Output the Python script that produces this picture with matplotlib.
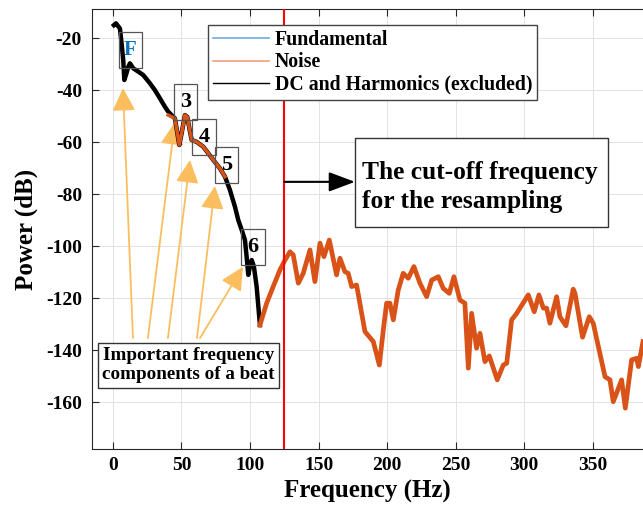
import numpy as np
import matplotlib
matplotlib.use('Agg')
import matplotlib.pyplot as plt
from matplotlib.lines import Line2D
from matplotlib.patches import Rectangle
from matplotlib.transforms import ScaledTranslation

plt.rcParams['font.family'] = ['Liberation Serif', 'DejaVu Serif']
plt.rcParams['font.weight'] = 'bold'
plt.rcParams['axes.unicode_minus'] = False

# DC and harmonics (black), 0 - 107 Hz
freq_dc = [0.7, 2.2, 5.1, 6.3, 7.5, 8.3, 9.5, 11.2, 12.4, 14.8, 18.5, 22.1, 27.0, 30.6,
           34.3, 37.9, 40.3, 45.2, 48.4, 50.1, 52.5, 54.2, 56.2, 57.4, 61.0, 65.9, 69.5,
           73.2, 78.0, 81.7, 85.3, 89.0, 91.4, 93.9, 96.3, 97.5, 98.7, 99.9, 101.2,
           102.8, 104.8, 107.2]
power_dc = [-14.9, -14.2, -16.2, -21.9, -28.3, -36.0, -34.1, -30.9, -29.6, -31.5, -32.8,
            -34.1, -37.3, -39.9, -43.1, -46.3, -48.2, -50.8, -61.0, -56.5, -49.5, -50.2,
            -55.9, -59.1, -59.8, -61.7, -64.2, -66.8, -70.0, -73.2, -78.3, -84.8, -89.9,
            -93.7, -97.6, -104.0, -111.0, -107.8, -105.3, -107.8, -115.5, -130.3]

# noise between harmonics 3 and 5
freq_mid = [40.3, 45.2, 48.4, 50.1, 52.5, 54.2, 56.2, 57.4, 61.0, 65.9, 69.5, 73.2, 78.0, 81.7]
power_mid = [-49.5, -50.8, -61.0, -56.5, -49.5, -50.2, -55.9, -59.1, -59.8, -61.7, -64.2,
             -66.8, -70.0, -73.2]

# noise above 107 Hz
freq_noise = [107.2, 112.1, 116.9, 121.8, 125.5, 129.1, 131.5, 135.2, 138.8, 143.7, 147.3,
              151.0, 153.9, 157.8, 163.1, 165.6, 169.2, 171.6, 174.1, 177.7, 183.8, 189.9,
              194.3, 197.2, 199.6, 202.0, 204.5, 208.1, 211.7, 215.4, 219.5, 223.9, 228.8,
              232.5, 237.3, 240.9, 245.3, 248.7, 253.1, 256.7, 259.2, 261.6, 265.2, 267.7,
              271.3, 274.5, 280.3, 284.7, 287.2, 290.8, 294.5, 302.9, 307.3, 310.7, 313.9,
              316.3, 318.7, 323.6, 326.0, 330.4, 335.7, 337.0, 342.5, 347.4, 350.3, 358.9,
              362.5, 364.9, 371.0, 373.7, 378.3, 382.0, 383.2, 386.6]
power_noise = [-130.3, -121.9, -115.5, -109.1, -105.3, -102.1, -103.3, -114.2, -110.4, -101.4,
               -113.6, -98.8, -104.0, -97.6, -111.0, -104.6, -109.8, -110.4, -115.5, -114.9,
               -132.8, -136.7, -145.7, -132.2, -121.9, -121.9, -128.3, -116.8, -110.4, -112.3,
               -107.8, -114.2, -119.4, -113.0, -111.7, -116.2, -118.1, -111.7, -120.7, -121.9,
               -146.9, -125.8, -139.2, -133.5, -144.4, -142.2, -151.4, -145.7, -145.0, -128.3,
               -125.8, -118.7, -125.2, -118.7, -123.8, -123.8, -129.6, -119.4, -127.1, -130.6,
               -116.5, -118.1, -135.0, -127.1, -129.6, -150.2, -151.4, -159.8, -151.4, -162.3,
               -143.7, -143.1, -146.3, -136.7]

cutoff = 125
# labelled components: name, label position, arrow tip, arrow tail
comp_names = ['F', '3', '4', '5', '6']
comp_label_x = [12.8, 52.9, 66.4, 82.8, 102.1]
comp_label_y = [-24.3, -44.5, -58.0, -68.7, -100.1]
tip_x = [7.3, 45.2, 56.2, 74.4, 94.8]
tip_y = [-39.1, -52.2, -66.8, -76.8, -107.9]
tail_x = [14.6, 25.5, 40.1, 61.3, 63.5]
tail_y = -135.3

blue = '#0072BD'
orange = '#D95319'

fig = plt.figure(figsize=(6.43, 5.14), dpi=100)
ax = fig.add_axes([0.1426, 0.1265, 0.8574, 0.8554])

ax.plot(freq_dc, power_dc, color='black', lw=3.2, solid_joinstyle='round', zorder=3)
ax.plot(freq_mid, power_mid, color=orange, lw=2.5, solid_joinstyle='round', zorder=4)
ax.plot(freq_noise, power_noise, color=orange, lw=3.4, solid_joinstyle='round', zorder=3)
ax.axvline(cutoff, color='red', lw=1.5, zorder=5)

ax.set_xlim(-15.5, 386.6)
ax.set_ylim(-178, -8.8)
ax.set_xticks(np.arange(0, 351, 50))
ax.set_yticks(np.arange(-160, -19, 20))
ax.grid(True, color='#e3e3e3', lw=0.7)
ax.set_axisbelow(True)
ax.tick_params(direction='in', top=True, right=False, length=5, width=0.8,
               labelsize=14, colors='#262626')
ax.tick_params(axis='x', pad=6)
ax.tick_params(axis='y', pad=7)
for lab in ax.get_xticklabels() + ax.get_yticklabels():
    lab.set_color('black')
ax.spines['right'].set_visible(False)
for s in ['left', 'top', 'bottom']:
    ax.spines[s].set_color('#262626')
    ax.spines[s].set_linewidth(0.8)

ax.set_xlabel('Frequency (Hz)', fontsize=18, fontweight='bold', labelpad=4)
ax.set_ylabel('Power (dB)', fontsize=18, fontweight='bold', labelpad=6)

# labels and arrows of the beat components
for i, name in enumerate(comp_names):
    ax.text(comp_label_x[i], comp_label_y[i], name, ha='center', va='center',
            fontsize=15 if name == 'F' else 16, fontweight='bold',
            color=blue if name == 'F' else 'black', zorder=6)
    box_tr = fig.dpi_scale_trans + ScaledTranslation(comp_label_x[i], comp_label_y[i],
                                                     ax.transData)
    ax.add_patch(Rectangle((-0.118, -0.18), 0.236, 0.36, transform=box_tr, fill=False,
                           ec='#555555', lw=0.9, zorder=6, clip_on=False))
    ax.annotate('', xy=(tip_x[i], tip_y[i]), xytext=(tail_x[i], tail_y),
                arrowprops=dict(arrowstyle='-|>,head_length=0.7,head_width=0.35',
                                color='#FBBE5E', lw=1.3, mutation_scale=20,
                                shrinkA=0, shrinkB=0), zorder=2)

ax.text(55.1, -145.8, 'Important frequency\ncomponents of a beat', ha='center',
        va='center', fontsize=13.8, fontweight='bold', linespacing=1.18, zorder=6,
        bbox=dict(boxstyle='square,pad=0.22', fc='white', ec='#333333', lw=1))

# cut-off text box
ax.add_patch(Rectangle((176.5, -92.5), 184.5, 34.2, fc='white', ec='#333333', lw=1,
                       zorder=6))
ax.text(181.6, -77.2, 'The cut-off frequency\nfor the resampling', ha='left',
        va='center', fontsize=18.4, fontweight='bold', linespacing=1.33, zorder=7)
ax.annotate('', xy=(176.5, -75.2), xytext=(cutoff, -75.2),
            arrowprops=dict(arrowstyle='-|>,head_length=0.8,head_width=0.3',
                            color='black', lw=1.5, mutation_scale=20,
                            shrinkA=0, shrinkB=0), zorder=6)

handles = [Line2D([], [], color='#6aaee0', lw=1.2),
           Line2D([], [], color='#ef9f7f', lw=1.2),
           Line2D([], [], color='black', lw=1.0)]
leg = ax.legend(handles, ['Fundamental', 'Noise', 'DC and Harmonics (excluded)'],
                loc='upper left', bbox_to_anchor=(0.211, 0.964), fancybox=False,
                framealpha=1, edgecolor='#444444', borderpad=0.25, labelspacing=0.12,
                handlelength=2.8, handletextpad=0.3, borderaxespad=0,
                prop={'size': 14.3, 'weight': 'bold'})
leg.get_frame().set_linewidth(1)

fig.savefig('out.png', dpi=100)
